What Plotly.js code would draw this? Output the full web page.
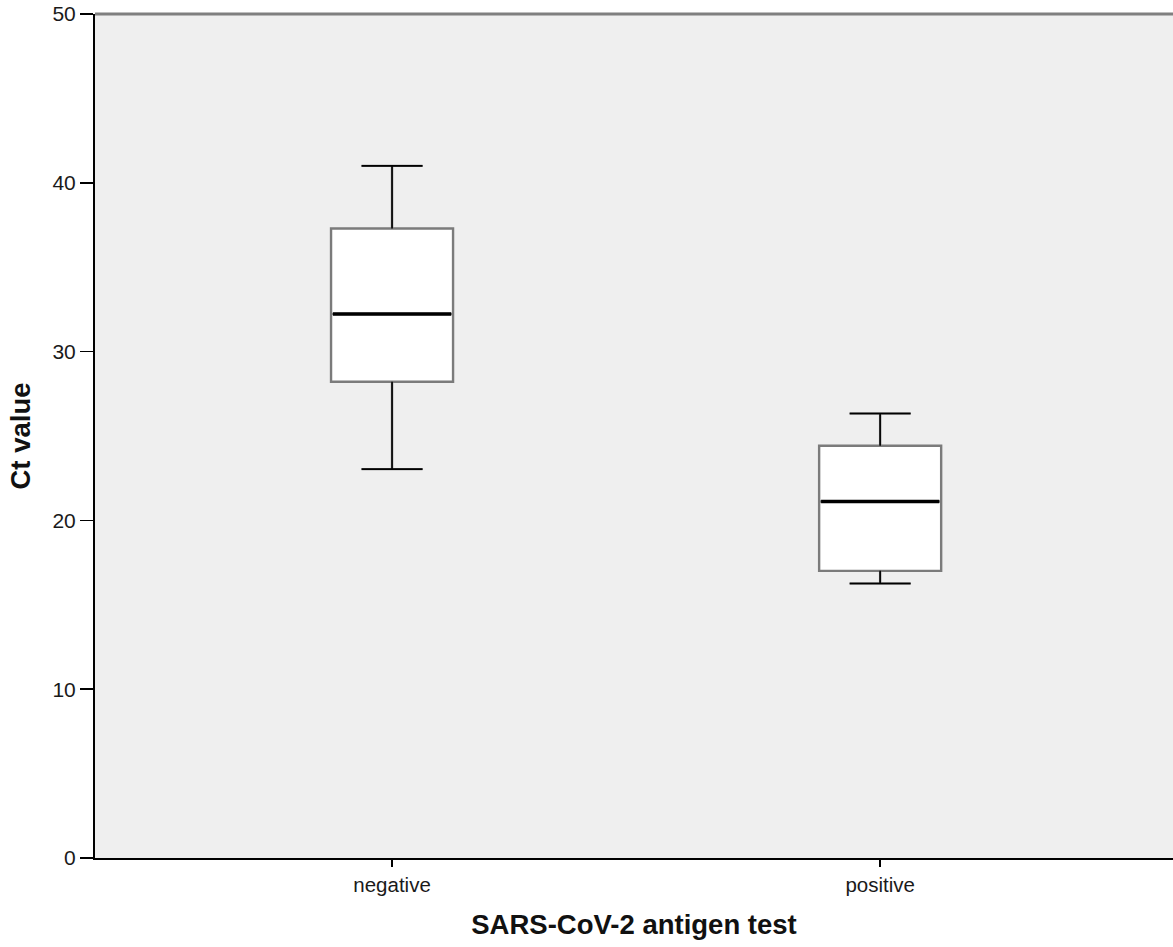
<!DOCTYPE html>
<html>
<head>
<meta charset="utf-8">
<script src="https://cdn.plot.ly/plotly-3.0.1.min.js"></script>
<style>html,body{margin:0;padding:0;background:#fff;}#chart{width:1173px;height:947px;}</style>
</head>
<body>
<div id="chart"></div>
<script>
const categories = ['negative', 'positive'];
const lowerWhisker = [23.04, 16.26];
const q1 = [28.21, 17.01];
const median = [32.23, 21.12];
const q3 = [37.29, 24.42];
const upperWhisker = [41.0, 26.33];
const yTicks = [0, 10, 20, 30, 40, 50];

const boxWidth = 0.25;
const capHalf = boxWidth / 4;
const xIdx = categories.map((c, i) => i);

const traces = [];
traces.push({
  type: 'box',
  x: xIdx,
  q1: q1, median: median, q3: q3,
  lowerfence: lowerWhisker, upperfence: upperWhisker,
  width: boxWidth,
  whiskerwidth: 0.5,
  fillcolor: '#ffffff',
  line: {color: '#7b7b7b', width: 2.4},
  hoverinfo: 'skip',
  showlegend: false
});

// whiskers (black) and medians (thick black) drawn from the same arrays
const wx = [], wy = [];
xIdx.forEach((i, k) => {
  wx.push(i, i, null, i - capHalf, i + capHalf, null, i, i, null, i - capHalf, i + capHalf, null);
  wy.push(q3[k], upperWhisker[k], null, upperWhisker[k], upperWhisker[k], null,
          q1[k], lowerWhisker[k], null, lowerWhisker[k], lowerWhisker[k], null);
});
traces.push({
  type: 'scatter', mode: 'lines', x: wx, y: wy,
  line: {color: '#000000', width: 1.6}, hoverinfo: 'skip', showlegend: false
});
const mx = [], my = [];
xIdx.forEach((i, k) => {
  mx.push(i - boxWidth / 2 + 0.004, i + boxWidth / 2 - 0.004, null);
  my.push(median[k], median[k], null);
});
traces.push({
  type: 'scatter', mode: 'lines', x: mx, y: my,
  line: {color: '#000000', width: 3.6}, hoverinfo: 'skip', showlegend: false
});

const layout = {
  width: 1173, height: 947,
  margin: {l: 95, r: 0, t: 14, b: 89},
  paper_bgcolor: '#ffffff',
  plot_bgcolor: '#efefef',
  font: {family: 'Liberation Sans, Arial, sans-serif', color: '#1a1a1a'},
  xaxis: {
    range: [-0.6086, 1.6],
    tickvals: xIdx,
    ticktext: categories,
    ticks: 'outside', ticklen: 7, tickwidth: 1.5, tickcolor: '#000',
    showline: true, linecolor: '#000', linewidth: 2,
    showgrid: false, zeroline: false,
    tickfont: {size: 20.5, family: 'Liberation Sans, Arial, sans-serif', color: '#1a1a1a'},
    title: {text: 'SARS-CoV-2 antigen test', standoff: 20,
            font: {size: 27.5, family: 'Liberation Sans, Arial, sans-serif', weight: 'bold', color: '#111'}}
  },
  yaxis: {
    range: [0, 50],
    tickvals: yTicks,
    ticks: 'outside', ticklen: 13, tickwidth: 1.5, tickcolor: '#000',
    showline: true, linecolor: '#000', linewidth: 2,
    showgrid: false, zeroline: false,
    tickfont: {size: 21, family: 'Liberation Sans, Arial, sans-serif', color: '#1a1a1a'},
    title: {text: 'Ct value', standoff: 14,
            font: {size: 27.5, family: 'Liberation Sans, Arial, sans-serif', weight: 'bold', color: '#111'}}
  },
  shapes: [{
    type: 'line', xref: 'paper', yref: 'paper', x0: 0, x1: 1, y0: 1, y1: 1,
    line: {color: '#7f7f7f', width: 3}
  }]
};

Plotly.newPlot('chart', traces, layout, {displayModeBar: false, staticPlot: true});
</script>
</body>
</html>
